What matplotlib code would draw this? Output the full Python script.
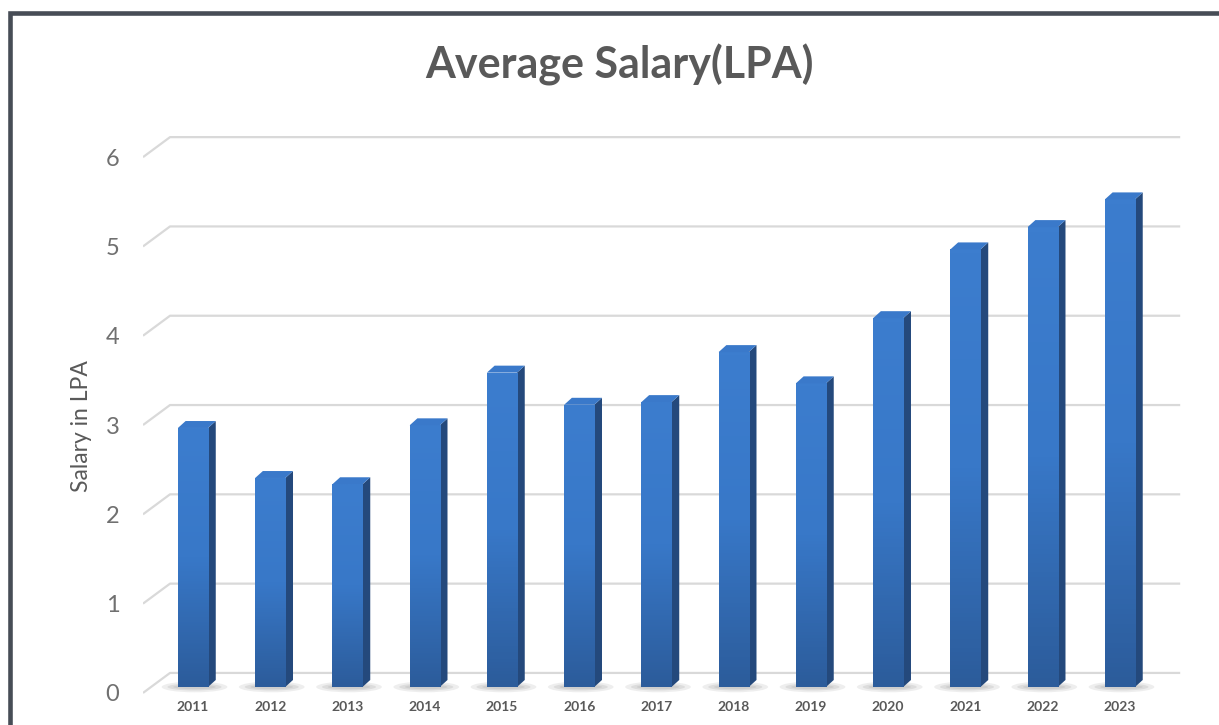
import numpy as np
import matplotlib
matplotlib.use('Agg')
import matplotlib.pyplot as plt
from matplotlib.patches import Polygon, Rectangle, Ellipse
from matplotlib.colors import LinearSegmentedColormap

years = ['2011', '2012', '2013', '2014', '2015', '2016', '2017',
         '2018', '2019', '2020', '2021', '2022', '2023']
salary = [2.9, 2.34, 2.27, 2.93, 3.52, 3.16, 3.19, 3.75, 3.4, 4.13, 4.9, 5.15, 5.46]
y_ticks = [0, 1, 2, 3, 4, 5, 6]

plt.rcParams['font.family'] = ['Lato', 'DejaVu Sans']

# fake 3D: offsets (in data units) of the back wall and the front edge
# relative to the plane of the bars' front faces
BACK_DX, BACK_DY = 0.25, 0.157
FRONT_DX, FRONT_DY = 0.10, 0.067
BAR_W = 0.39
SIDE_DX, SIDE_DY = 0.10, 0.078
X_MIN, X_MAX = -0.647, 12.842
WALL_END = 12.78

fig = plt.figure(figsize=(12.19, 7.25), dpi=100)
ax = fig.add_axes([0.1173, 0.0345, 0.8548, 0.7931])

# gridlines bent back onto the wall
for v in y_ticks:
    ax.plot([X_MIN, X_MIN + FRONT_DX + BACK_DX, WALL_END],
            [v - FRONT_DY, v + BACK_DY, v + BACK_DY],
            color='#d9d9d9', lw=1.6, zorder=1, solid_capstyle='butt')

x = np.arange(len(years))

# soft floor shadows
for xi in x:
    for w, h, a in [(0.85, 0.12, 0.25), (0.7, 0.08, 0.35), (0.55, 0.05, 0.45)]:
        ax.add_patch(Ellipse((xi + 0.02, 0.0), w, h, color='#bdbdbd',
                             alpha=a, lw=0, zorder=2))

bars = ax.bar(x, salary, width=BAR_W, color='#3470bd', zorder=4, lw=0)

cmap = LinearSegmentedColormap.from_list('face', ['#2c5c9b', '#3878c8', '#3c7dce'])
grad = np.linspace(0, 1, 100).reshape(-1, 1)
for xi, v, b in zip(x, salary, bars):
    im = ax.imshow(grad, extent=(xi - BAR_W / 2, xi + BAR_W / 2, 0, v),
                   origin='lower', cmap=cmap, aspect='auto', zorder=4.5)
    im.set_clip_path(b)
    r = xi + BAR_W / 2
    l = xi - BAR_W / 2
    # side face
    ax.add_patch(Polygon([(r, 0), (r + SIDE_DX, SIDE_DY), (r + SIDE_DX, v + SIDE_DY), (r, v)],
                         closed=True, color='#24497c', lw=0, zorder=3.5))
    # top face
    ax.add_patch(Polygon([(l, v), (r, v), (r + SIDE_DX, v + SIDE_DY), (l + SIDE_DX, v + SIDE_DY)],
                         closed=True, color='#3a79ca', lw=0, zorder=5))

ax.set_xlim(X_MIN, X_MAX)
ax.set_ylim(-0.146, 6.293)

ax.set_yticks(np.array(y_ticks) - FRONT_DY)
ax.set_yticklabels([str(t) for t in y_ticks], fontsize=17, color='#707070')
ax.set_xticks(x)
ax.set_xticklabels(years, fontsize=10, fontweight='bold', color='#595959')
ax.tick_params(axis='y', length=0, pad=17)
ax.tick_params(axis='x', length=0, pad=1)
for s in ax.spines.values():
    s.set_visible(False)

ax.set_ylabel('Salary in LPA', fontsize=16.5, color='#595959')
ax.yaxis.set_label_coords(-0.0485, 0.4765)

fig.text(0.5085, 0.91, 'Average Salary(LPA)', ha='center', va='center',
         fontsize=31, fontweight='bold', color='#595959')

# dark chart border along the top and left edges
fig.patches.append(Rectangle((10 / 1219, -0.05), 1.2, (725 - 12.5) / 725 + 0.05,
                             transform=fig.transFigure, fill=False,
                             edgecolor='#474d56', lw=3.3))

fig.savefig('out.png', dpi=100)
